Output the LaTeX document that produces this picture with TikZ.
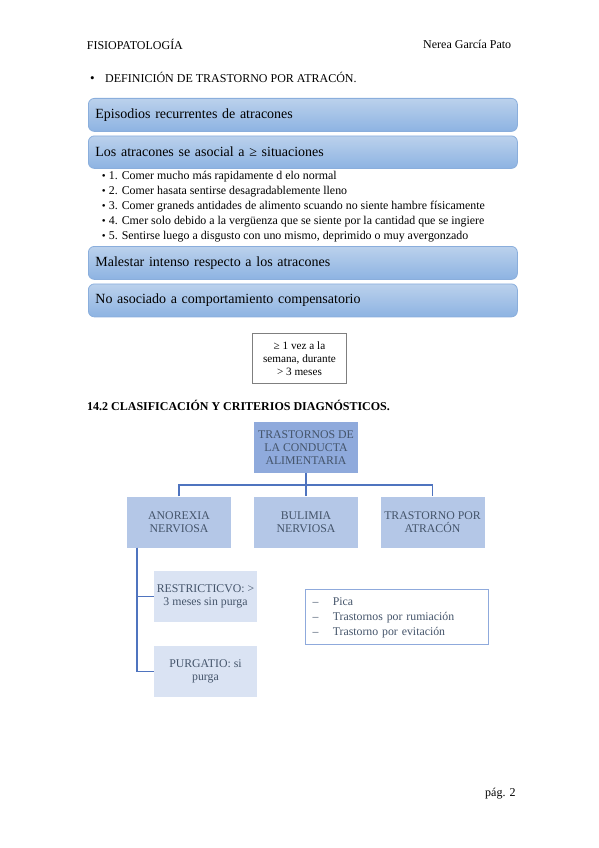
\documentclass[tikz,border=0pt]{standalone}
\usepackage{fontspec}
\setmainfont{Liberation Serif}
\definecolor{bartop}{HTML}{BBD1EC}
\definecolor{barbot}{HTML}{8DB3E2}
\definecolor{barline}{HTML}{8AAEDC}
\definecolor{slate}{HTML}{44546A}
\definecolor{lvla}{HTML}{8FAADC}
\definecolor{lvlb}{HTML}{B4C7E7}
\definecolor{lvlc}{HTML}{DAE3F3}
\definecolor{conn}{HTML}{4F74BF}
\definecolor{framegray}{HTML}{7F7F7F}
\begin{document}
\begin{tikzpicture}[x=1pt,y=-1pt,
  txt/.style={inner sep=0pt,anchor=west,font=\fontsize{12}{14}\selectfont},
  bar/.style={anchor=north west,rounded corners=6pt,draw=barline,line width=0.8pt,
    top color=bartop,bottom color=barbot,minimum width=429pt,text width=415pt,
    inner xsep=7pt,inner ysep=0pt,align=left,font=\fontsize{14}{16}\selectfont},
  litem/.style={inner sep=0pt,anchor=west,font=\fontsize{11.9}{14}\selectfont},
  bul/.style={inner sep=0pt,anchor=base,font=\fontsize{11}{12}\selectfont},
  lvlabox/.style={fill=lvla,text=slate,minimum width=104pt,minimum height=51pt,
    inner sep=0pt,align=center,font=\fontsize{11.8}{12.8}\selectfont},
  lvlbbox/.style={lvlabox,fill=lvlb},
  lvlcbox/.style={lvlabox,fill=lvlc,minimum width=103pt},
  link/.style={draw=conn,line width=1.4pt}]
\useasboundingbox (0,0) rectangle (599,848);

% header
\node[txt] (h1) at (86.7,44) {FISIOPATOLOGÍA};
\node[txt] (h2) at (423,44) {Nerea García Pato};

% section bullet
\node[txt] (def) at (105,77) {DEFINICIÓN DE TRASTORNO POR ATRACÓN.};
\node[bul,font=\fontsize{13}{14}\selectfont] (b0) at ([xshift=-12.5pt]def.base west) {•};

% bars
\node[bar,minimum height=33pt] (bar1) at (88,98) {Episodios recurrentes de atracones};
\node[bar,minimum height=32.5pt] (bar2) at (88,135.5) {Los atracones se asocial a ≥ situaciones};

\node[litem] (l1) at (108.7,176.7) {1. Comer mucho más rapidamente d elo normal};
\node[litem] (l2) at (108.7,191.7) {2. Comer hasata sentirse desagradablemente lleno};
\node[litem] (l3) at (108.7,206.7) {3. Comer graneds antidades de alimento scuando no siente hambre físicamente};
\node[litem] (l4) at (108.7,221.7) {4. Cmer solo debido a la vergüenza que se siente por la cantidad que se ingiere};
\node[litem] (l5) at (108.7,236.7) {5. Sentirse luego a disgusto con uno mismo, deprimido o muy avergonzado};
\foreach \i in {1,...,5}{\node[bul] (d\i) at ([xshift=-4.8pt]l\i.base west) {•};}

\node[bar,minimum height=33pt] (bar3) at (88,246) {Malestar intenso respecto a los atracones};
\node[bar,minimum height=33pt] (bar4) at (88,283.5) {No asociado a comportamiento compensatorio};

% frequency box
\node[draw=framegray,line width=0.9pt,anchor=north west,minimum width=94pt,minimum height=50pt,
  inner sep=0pt,align=center,font=\fontsize{11.2}{13}\selectfont] (freq) at (252,333)
  {≥ 1 vez a la\\semana, durante\\> 3 meses};

% heading
\node[txt,font=\bfseries\fontsize{12}{14}\selectfont] (sec) at (87,405)
  {14.2 CLASIFICACIÓN Y CRITERIOS DIAGNÓSTICOS.};

% tree
\node[lvlabox] (tca) at (306,447.5) {TRASTORNOS DE\\LA CONDUCTA\\ALIMENTARIA};
\node[lvlbbox] (ano) at (179,522) {ANOREXIA\\NERVIOSA};
\node[lvlbbox] (bul) at (306,522) {BULIMIA\\NERVIOSA};
\node[lvlbbox] (tpa) at (432.5,522) {TRASTORNO POR\\ATRACÓN};
\node[lvlcbox] (res) at (205.5,596.5) {RESTRICTICVO: >\\3 meses sin purga};
\node[lvlcbox] (pur) at (205.5,671.5) {PURGATIO: si\\purga};

\draw[link] (tca.south) -- (bul.north);
\draw[link] (ano.north) -- ++(0,-11.3) -| (tpa.north);
\draw[link] ([xshift=10pt]ano.south west) |- (res.west);
\draw[link] ([xshift=10pt]ano.south west) |- (pur.west);

% other list
\node[draw=lvla,line width=1pt,fill=white,anchor=north west,minimum width=183pt,minimum height=55pt,
  text width=169pt,inner xsep=6.7pt,inner ysep=0pt,align=left,text=slate,
  font=\fontsize{11.8}{15}\selectfont] (otr) at (305,589)
  {\begin{tabular}{@{}p{20.3pt}@{}l@{}}–&Pica\\–&Trastornos por rumiación\\–&Trastorno por evitación\end{tabular}};

% footer
\node[txt] (foot) at (485,794) {pág. 2};
\end{tikzpicture}
\end{document}
